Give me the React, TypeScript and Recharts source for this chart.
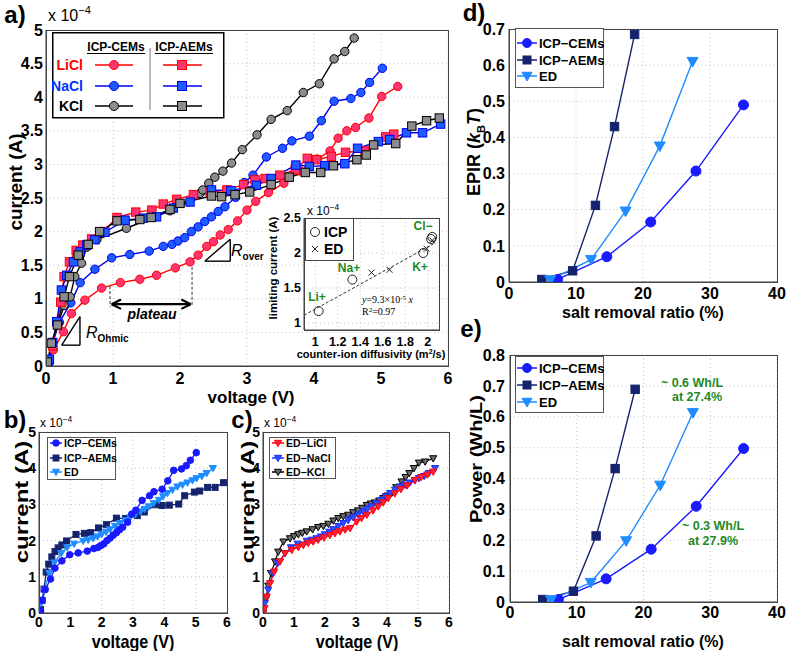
import React from "react";
import { LineChart, Line, XAxis, YAxis, CartesianGrid, ReferenceLine } from "recharts";

const FONT = "'Liberation Sans', Arial, Helvetica, sans-serif";
const GREEN = "#1f8a1f";

type Pt = [number, number];

// a) current (x1e-4 A) vs voltage (V)
const liclCem: Pt[] = [[0,0],[0.11,0.24],[0.26,0.51],[0.38,0.78],[0.58,0.98],[0.83,1.16],[1.11,1.24],[1.4,1.29],[1.65,1.35],[1.93,1.46],[2.15,1.55],[2.27,1.65],[2.4,1.78],[2.5,1.85],[2.6,1.95],[2.72,2.03],[2.86,2.16],[3.0,2.32],[3.13,2.45],[3.32,2.58],[3.55,2.72],[3.8,2.9],[4.05,3.08],[4.24,3.2],[4.36,3.39],[4.49,3.5],[4.62,3.55],[4.82,3.69],[5.01,4.01],[5.25,4.16]];
const naclCem: Pt[] = [[0,0],[0.05,0.05],[0.1,0.35],[0.2,0.65],[0.37,0.94],[0.51,1.24],[0.73,1.44],[0.98,1.61],[1.25,1.66],[1.54,1.71],[1.75,1.78],[1.88,1.81],[1.97,1.86],[2.07,1.91],[2.17,2.0],[2.27,2.07],[2.37,2.15],[2.47,2.22],[2.57,2.3],[2.67,2.37],[2.83,2.51],[2.96,2.73],[3.09,2.84],[3.29,3.11],[3.53,3.24],[3.67,3.35],[3.93,3.42],[4.11,3.65],[4.3,3.94],[4.55,3.98],[4.7,4.07],[4.83,4.22],[5.02,4.43]];
const kclCem: Pt[] = [[0,0],[0.05,0.08],[0.1,0.35],[0.18,0.62],[0.27,0.9],[0.36,1.03],[0.43,1.33],[0.53,1.53],[0.61,1.77],[0.76,1.88],[1.2,2.05],[1.85,2.31],[2.3,2.57],[2.34,2.62],[2.43,2.72],[2.52,2.81],[2.64,2.9],[2.77,3.02],[2.93,3.22],[3.15,3.44],[3.36,3.67],[3.6,3.8],[3.84,4.07],[4.08,4.2],[4.3,4.57],[4.46,4.68],[4.6,4.88]];
const liclAem: Pt[] = [[0,0],[0.1,0.3],[0.17,0.65],[0.22,0.95],[0.27,1.33],[0.35,1.55],[0.45,1.72],[0.55,1.8],[0.68,1.89],[0.86,2.0],[1.06,2.21],[1.34,2.29],[1.58,2.32],[1.75,2.41],[1.95,2.48],[2.2,2.55],[2.45,2.58],[2.7,2.62],[2.95,2.7],[3.12,2.77],[3.27,2.79],[3.49,2.84],[3.72,2.92],[3.9,3.09],[4.04,3.07],[4.26,3.12],[4.47,3.18],[4.76,3.2],[5.07,3.41],[5.19,3.45]];
const naclAem: Pt[] = [[0,0],[0.05,0.1],[0.1,0.35],[0.16,0.66],[0.23,1.13],[0.31,1.35],[0.41,1.55],[0.51,1.7],[0.61,1.8],[0.73,1.88],[0.88,1.99],[1.18,2.17],[1.45,2.2],[1.65,2.22],[1.9,2.35],[2.15,2.44],[2.47,2.62],[2.76,2.61],[3.14,2.69],[3.36,2.79],[3.73,2.99],[3.93,2.97],[4.16,2.98],[4.46,3.01],[4.65,3.24],[4.96,3.34],[5.13,3.37],[5.38,3.47],[5.62,3.47],[5.89,3.6]];
const kclAem: Pt[] = [[0,0],[0.02,0.06],[0.08,0.34],[0.17,0.61],[0.27,1.03],[0.35,1.33],[0.48,1.65],[0.63,1.81],[0.8,2.0],[1.06,2.16],[1.4,2.18],[1.57,2.21],[1.85,2.33],[2.0,2.42],[2.47,2.53],[2.62,2.52],[2.82,2.55],[3.04,2.59],[3.36,2.7],[3.63,2.81],[3.87,2.88],[4.1,2.88],[4.29,2.98],[4.64,3.07],[4.78,3.14],[4.89,3.29],[5.22,3.31],[5.46,3.57],[5.68,3.65],[5.87,3.69]];

// c) electrodialysis runs
const edLicl: Pt[] = [[0,0],[0.05,0.13],[0.12,0.45],[0.23,0.82],[0.36,1.14],[0.55,1.42],[0.71,1.65],[0.93,1.74],[1.14,1.82],[1.3,1.87],[1.46,1.93],[1.62,1.97],[1.78,2.02],[1.97,2.08],[2.16,2.15],[2.32,2.2],[2.48,2.25],[2.65,2.3],[2.81,2.34],[3.02,2.52],[3.18,2.62],[3.35,2.71],[3.55,2.83],[3.72,2.94],[3.88,3.05],[4.04,3.17],[4.25,3.3],[4.45,3.42],[4.65,3.52],[4.9,3.67],[5.1,3.75],[5.3,3.82],[5.49,3.9]];
const edNacl: Pt[] = [[0,0],[0.06,0.27],[0.17,0.64],[0.33,1.1],[0.49,1.39],[0.71,1.65],[0.9,1.81],[1.12,1.91],[1.41,1.99],[1.57,2.02],[1.73,2.06],[1.87,2.11],[2.0,2.17],[2.14,2.24],[2.27,2.31],[2.43,2.4],[2.59,2.48],[2.75,2.56],[2.91,2.64],[3.07,2.72],[3.24,2.8],[3.37,2.87],[3.5,2.94],[3.66,3.03],[3.83,3.12],[3.96,3.22],[4.1,3.31],[4.26,3.4],[4.42,3.49],[4.58,3.54],[4.74,3.6],[4.9,3.66],[5.03,3.72],[5.2,3.78],[5.35,3.86],[5.55,4.0]];
const edKcl: Pt[] = [[0,0],[0.01,0.08],[0.09,0.38],[0.17,0.75],[0.26,1.1],[0.39,1.42],[0.49,1.69],[0.66,1.97],[0.87,2.06],[1.0,2.12],[1.14,2.17],[1.27,2.21],[1.41,2.25],[1.6,2.31],[1.78,2.37],[1.95,2.4],[2.11,2.46],[2.27,2.55],[2.43,2.62],[2.59,2.67],[2.75,2.71],[2.91,2.78],[3.07,2.83],[3.2,2.9],[3.35,2.98],[3.48,3.02],[3.61,3.05],[3.75,3.1],[3.88,3.17],[4.02,3.24],[4.15,3.31],[4.3,3.47],[4.47,3.63],[4.6,3.75],[4.72,3.86],[4.87,4.0],[5.03,4.15],[5.23,4.18],[5.49,4.27]];

// inset: limiting current vs counter-ion diffusivity
const insetIcp: Pt[] = [[1.03,1.17],[1.33,1.62],[1.96,2.0],[2.03,2.2],[2.04,2.23]];
const insetEd: Pt[] = [[1.5,1.72],[1.66,1.76],[1.99,2.06],[2.04,2.18]];
const insetFit: Pt[] = [[0.9,1.11],[2.06,2.14]];

// d) EPIR and e) power vs salt removal ratio (%)
const epirCem: Pt[] = [[7.25,0.007],[14.6,0.07],[21.15,0.166],[27.9,0.307],[35.0,0.49]];
const epirAem: Pt[] = [[4.9,0.007],[9.5,0.031],[12.9,0.212],[15.75,0.43],[18.75,0.685]];
const epirEd: Pt[] = [[6.15,0.006],[12.25,0.062],[17.4,0.196],[22.5,0.376],[27.4,0.61]];
const powCem: Pt[] = [[7.25,0.008],[14.4,0.075],[21.15,0.171],[27.9,0.31],[35.0,0.497]];
const powAem: Pt[] = [[4.9,0.008],[9.5,0.035],[12.9,0.214],[15.75,0.432],[18.75,0.689]];
const powEd: Pt[] = [[6.15,0.007],[12.1,0.063],[17.4,0.198],[22.5,0.378],[27.4,0.613]];

const vTicks = [0, 1, 2, 3, 4, 5, 6];
const iTicksA = [0, 0.5, 1, 1.5, 2, 2.5, 3, 3.5, 4, 4.5, 5];
const iTicksB = [0, 1, 2, 3, 4, 5];
const diffTicks = [1, 1.2, 1.4, 1.6, 1.8, 2];
const limTicks = [1, 1.5, 2, 2.5];
const ratioTicks = [0, 10, 20, 30, 40];
const epirTicks = [0, 0.1, 0.2, 0.3, 0.4, 0.5, 0.6, 0.7];
const powTicks = [0, 0.1, 0.2, 0.3, 0.4, 0.5, 0.6, 0.7, 0.8];

const toPts = (arr: Pt[]) => arr.map(([x, y]) => ({ x, y }));

type Shape = "circle" | "square" | "tri" | "x";

const drawMarker = (shape: Shape, s: number, fill: string, stroke: string, cx: number, cy: number, key: string, sw = 1) => {
  if (shape === "circle") return <circle key={key} cx={cx} cy={cy} r={s} fill={fill} stroke={stroke} strokeWidth={sw} />;
  if (shape === "square") return <rect key={key} x={cx - s} y={cy - s} width={2 * s} height={2 * s} fill={fill} stroke={stroke} strokeWidth={sw} />;
  if (shape === "tri")
    return <polygon key={key} points={`${cx - s},${cy - s * 0.75} ${cx + s},${cy - s * 0.75} ${cx},${cy + s}`} fill={fill} stroke={stroke} strokeWidth={sw} />;
  return (
    <g key={key} stroke={stroke} strokeWidth={sw}>
      <line x1={cx - s} y1={cy - s} x2={cx + s} y2={cy + s} />
      <line x1={cx - s} y1={cy + s} x2={cx + s} y2={cy - s} />
    </g>
  );
};

const dot = (shape: Shape, s: number, fill: string, stroke: string, sw = 1) => (p: any) => {
  const key = `m${p.index}`;
  if (p.cx == null || p.cy == null || Number.isNaN(p.cx)) return <g key={key} />;
  return drawMarker(shape, s, fill, stroke, p.cx, p.cy, key, sw);
};

interface PanelProps {
  left: number;
  top: number;
  w: number;
  h: number;
  xDomain: [number, number];
  yDomain: [number, number];
  xTicks: number[];
  yTicks: number[];
  fontSize: number;
  yPad?: number;
  xPad?: number;
  xGap?: number;
  yGap?: number;
  bg?: string;
  children: React.ReactNode;
}

const PAD_T = 8;
const PAD_R = 14;

const Panel = ({ left, top, w, h, xDomain, yDomain, xTicks, yTicks, fontSize, yPad = 40, xPad = 30, xGap = 6, yGap = 4, bg, children }: PanelProps) => {
  const tick = { fontSize, fontWeight: "bold", fill: "#000", fontFamily: FONT };
  return (
    <div style={{ position: "absolute", left: left - yPad, top: top - PAD_T }}>
      <LineChart width={w + yPad + PAD_R} height={h + PAD_T + xPad} margin={{ top: PAD_T, right: PAD_R, left: 0, bottom: 0 }}>
        <CartesianGrid stroke="#c4c4c4" strokeDasharray="1 3" fill={bg} />
        <XAxis type="number" dataKey="x" domain={xDomain} ticks={xTicks} interval={0} allowDataOverflow height={xPad} tickLine={false} tickSize={0} tickMargin={xGap} axisLine={{ stroke: "#444" }} tick={tick} />
        <YAxis type="number" dataKey="y" domain={yDomain} ticks={yTicks} interval={0} allowDataOverflow width={yPad} tickLine={false} tickSize={0} tickMargin={yGap} axisLine={{ stroke: "#444" }} tick={tick} />
        {children}
      </LineChart>
      <div style={{ position: "absolute", left: yPad, top: PAD_T, width: w + 1, height: h + 1, border: "1px solid #444", boxSizing: "border-box", pointerEvents: "none" }} />
    </div>
  );
};

const Txt = ({ x, y, size, children, color = "#000", weight = "bold", rotate = false, italic = false, squeeze = 1 }: any) => (
  <div
    style={{
      position: "absolute",
      left: x,
      top: y,
      transform: `translate(-50%,-50%)${rotate ? " rotate(-90deg)" : ""}${squeeze !== 1 ? (rotate ? ` scaleY(${squeeze})` : ` scaleX(${squeeze})`) : ""}`,
      fontFamily: FONT,
      fontSize: size,
      fontWeight: weight,
      fontStyle: italic ? "italic" : "normal",
      color,
      whiteSpace: "nowrap",
      lineHeight: 1,
    }}
  >
    {children}
  </div>
);

const Exp = ({ x, y, size }: { x: number; y: number; size: number }) => (
  <div style={{ position: "absolute", left: x, top: y, fontFamily: FONT, fontSize: size, lineHeight: 1, whiteSpace: "nowrap" }}>
    x 10<span style={{ fontSize: size * 0.7, position: "relative", top: -size * 0.45 }}>−4</span>
  </div>
);

interface LegItem {
  label: string;
  color: string;
  fill: string;
  shape: Shape;
  s: number;
}

const SmallLegend = ({ x, y, w, h, items, rowY, lineX, font }: { x: number; y: number; w: number; h: number; items: LegItem[]; rowY: number[]; lineX: [number, number]; font: number }) => (
  <svg style={{ position: "absolute", left: x, top: y }} width={w + 2} height={h + 2}>
    <rect x={0.5} y={0.5} width={w} height={h} fill="#fff" stroke="#555" />
    {items.map((it, i) => (
      <g key={it.label}>
        <line x1={lineX[0]} x2={lineX[1]} y1={rowY[i]} y2={rowY[i]} stroke={it.color} strokeWidth={1.5} />
        {drawMarker(it.shape, it.s, it.fill, it.color, (lineX[0] + lineX[1]) / 2, rowY[i], "mk")}
        <text x={lineX[1] + 2} y={rowY[i] + font * 0.36} fontFamily={FONT} fontWeight="bold" fontSize={font}>
          {it.label}
        </text>
      </g>
    ))}
  </svg>
);

const RED = "#ff0000";
const RED_F = "#ff3470";
const BLUE = "#0000f0";
const BLUE_F = "#1e5cff";
const GRAY_F = "#8c8c8c";

const ICP_C = "#1a1aff";
const ICP_A = "#15236e";
const ED_C = "#1f8cff";

const seriesA = [
  { data: liclCem, color: RED, fill: RED_F, shape: "circle" as Shape },
  { data: naclCem, color: BLUE, fill: BLUE_F, shape: "circle" as Shape },
  { data: kclCem, color: "#000", fill: GRAY_F, shape: "circle" as Shape },
  { data: liclAem, color: RED, fill: RED_F, shape: "square" as Shape },
  { data: naclAem, color: BLUE, fill: BLUE_F, shape: "square" as Shape },
  { data: kclAem, color: "#000", fill: GRAY_F, shape: "square" as Shape },
];

const seg = (pts: Pt[], key: string, extra: any = {}) => (
  <ReferenceLine key={key} segment={pts.map(([x, y]) => ({ x, y }))} stroke="#000" strokeWidth={1.4} ifOverflow="visible" {...extra} />
);

const bItems: LegItem[] = [
  { label: "ICP−CEMs", color: ICP_C, fill: ICP_C, shape: "circle", s: 3.3 },
  { label: "ICP−AEMs", color: ICP_A, fill: ICP_A, shape: "square", s: 3 },
  { label: "ED", color: ED_C, fill: ED_C, shape: "tri", s: 3.6 },
];
const cItems: LegItem[] = [
  { label: "ED−LiCl", color: "#ff0000", fill: "#ff2040", shape: "tri", s: 3.6 },
  { label: "ED−NaCl", color: "#1a2cff", fill: "#3050ff", shape: "tri", s: 3.6 },
  { label: "ED−KCl", color: "#000", fill: "#6a6a6a", shape: "tri", s: 3.6 },
];
const deItems: LegItem[] = [
  { label: "ICP−CEMs", color: ICP_C, fill: ICP_C, shape: "circle", s: 4.5 },
  { label: "ICP−AEMs", color: ICP_A, fill: ICP_A, shape: "square", s: 4 },
  { label: "ED", color: ED_C, fill: ED_C, shape: "tri", s: 5 },
];

const App = () => (
  <div style={{ position: "absolute", left: 0, top: 0, width: 787, height: 651, background: "#fff", overflow: "hidden", fontFamily: FONT }}>
    {/* a) main */}
    <Panel left={46} top={30} w={402} h={336} xDomain={[0, 6]} yDomain={[0, 5]} xTicks={vTicks} yTicks={iTicksA} fontSize={16} yPad={46} xPad={34} xGap={7} yGap={3}>
      {seriesA.map((s, i) => (
        <Line key={i} data={toPts(s.data)} dataKey="y" stroke={s.color} strokeWidth={1.4} dot={dot(s.shape, 4.2, s.fill, s.color)} activeDot={false} isAnimationActive={false} />
      ))}
      {seg([[0.955, 1.19], [0.955, 0.88]], "d1", { strokeDasharray: "3 2", strokeWidth: 1, stroke: "#333" })}
      {seg([[2.18, 1.55], [2.18, 0.88]], "d2", { strokeDasharray: "3 2", strokeWidth: 1, stroke: "#333" })}
      {seg([[0.98, 0.92], [2.16, 0.92]], "ar", { strokeWidth: 2.2 })}
      {seg([[0.98, 0.92], [1.12, 0.99]], "al1", { strokeWidth: 2.2 })}
      {seg([[0.98, 0.92], [1.12, 0.85]], "al2", { strokeWidth: 2.2 })}
      {seg([[2.16, 0.92], [2.02, 0.99]], "ar1", { strokeWidth: 2.2 })}
      {seg([[2.16, 0.92], [2.02, 0.85]], "ar2", { strokeWidth: 2.2 })}
      {seg([[0.234, 0.31], [0.507, 0.735]], "o1")}
      {seg([[0.507, 0.735], [0.507, 0.31]], "o2")}
      {seg([[0.507, 0.31], [0.234, 0.31]], "o3")}
      {seg([[2.37, 1.56], [2.75, 1.885]], "v1")}
      {seg([[2.75, 1.885], [2.75, 1.56]], "v2")}
      {seg([[2.75, 1.56], [2.37, 1.56]], "v3")}
    </Panel>

    {/* a) legend */}
    <svg style={{ position: "absolute", left: 52, top: 32 }} width={174} height={88}>
      <rect x={0.75} y={0.75} width={171} height={85} fill="#fff" stroke="#000" strokeWidth={1.5} />
      <text x={64} y={19} textAnchor="middle" fontFamily={FONT} fontWeight="bold" fontSize={12}>ICP-CEMs</text>
      <text x={132} y={19} textAnchor="middle" fontFamily={FONT} fontWeight="bold" fontSize={12}>ICP-AEMs</text>
      <line x1={35} x2={93} y1={21.5} y2={21.5} stroke="#000" />
      <line x1={103} x2={161} y1={21.5} y2={21.5} stroke="#000" />
      <line x1={98} x2={98} y1={16} y2={78} stroke="#777" />
      {[
        { label: "LiCl", color: RED, fill: RED_F, y: 33 },
        { label: "NaCl", color: BLUE, fill: BLUE_F, y: 54 },
        { label: "KCl", color: "#000", fill: GRAY_F, y: 74 },
      ].map((r) => (
        <g key={r.label}>
          <text x={31} y={r.y + 5} textAnchor="end" fontFamily={FONT} fontWeight="bold" fontSize={14} fill={r.color === BLUE ? "#0033ff" : r.color}>{r.label}</text>
          <line x1={43} x2={81} y1={r.y} y2={r.y} stroke={r.color} strokeWidth={1.5} />
          {drawMarker("circle", 4.5, r.fill, r.color, 62, r.y, "c")}
          <line x1={111} x2={150} y1={r.y} y2={r.y} stroke={r.color} strokeWidth={1.5} />
          {drawMarker("square", 4.5, r.fill, r.color, 130, r.y, "s")}
        </g>
      ))}
    </svg>

    {/* a) inset */}
    <Panel left={304} top={218} w={135} h={112} xDomain={[0.9, 2.1]} yDomain={[0.9, 2.5]} xTicks={diffTicks} yTicks={limTicks} fontSize={12.5} yPad={26} xPad={20} xGap={7} yGap={3} bg="#fff">
      <Line data={toPts(insetFit)} dataKey="y" stroke="#333" strokeWidth={1} strokeDasharray="3 2" dot={false} activeDot={false} isAnimationActive={false} />
      <Line data={toPts(insetIcp)} dataKey="y" stroke="none" dot={dot("circle", 4.5, "none", "#222")} activeDot={false} isAnimationActive={false} />
      <Line data={toPts(insetEd)} dataKey="y" stroke="none" dot={dot("x", 3, "none", "#222")} activeDot={false} isAnimationActive={false} />
    </Panel>
    <svg style={{ position: "absolute", left: 305, top: 218 }} width={50} height={44}>
      <rect x={0.5} y={0.5} width={48} height={42} fill="#fff" stroke="#444" />
      {drawMarker("circle", 4.5, "none", "#222", 10, 14, "c")}
      <text x={19} y={19} fontFamily={FONT} fontWeight="bold" fontSize={14}>ICP</text>
      {drawMarker("x", 3, "none", "#222", 10, 31, "x")}
      <text x={19} y={36} fontFamily={FONT} fontWeight="bold" fontSize={14}>ED</text>
    </svg>
    <Exp x={307} y={205} size={12} />
    <Txt x={317} y={297} size={12} color={GREEN}>Li+</Txt>
    <Txt x={349} y={268} size={12} color={GREEN}>Na+</Txt>
    <Txt x={420} y={267} size={12} color={GREEN}>K+</Txt>
    <Txt x={423} y={226} size={12} color={GREEN}>Cl−</Txt>
    <div style={{ position: "absolute", left: 362, top: 295, fontFamily: "'Liberation Serif', 'DejaVu Serif', serif", fontSize: 10, lineHeight: 1, whiteSpace: "nowrap" }}>
      <i>y</i>=9.3×10<span style={{ fontSize: 7, verticalAlign: "3px", lineHeight: 0 }}>-5</span> <i>x</i>
    </div>
    <div style={{ position: "absolute", left: 362, top: 307, fontFamily: "'Liberation Serif', 'DejaVu Serif', serif", fontSize: 10, lineHeight: 1, whiteSpace: "nowrap" }}>
      R<span style={{ fontSize: 7, verticalAlign: "3px", lineHeight: 0 }}>2</span>=0.97
    </div>
    <Txt x={274} y={268} size={11.5} rotate>limiting current (A)</Txt>
    <Txt x={371} y={354} size={11}>counter-ion diffusivity (m<span style={{ fontSize: 7, position: "relative", top: -4 }}>2</span>/s)</Txt>

    {/* a) annotations text */}
    <Txt x={152} y={314} size={14} italic>plateau</Txt>
    <div style={{ position: "absolute", left: 86, top: 325, fontFamily: FONT, lineHeight: 1, whiteSpace: "nowrap" }}>
      <span style={{ fontSize: 16, fontStyle: "italic" }}>R</span>
      <span style={{ fontSize: 10, fontWeight: "bold", position: "relative", top: 4 }}>Ohmic</span>
    </div>
    <div style={{ position: "absolute", left: 231, top: 243, fontFamily: FONT, lineHeight: 1, whiteSpace: "nowrap" }}>
      <span style={{ fontSize: 16, fontStyle: "italic" }}>R</span>
      <span style={{ fontSize: 10, fontWeight: "bold", position: "relative", top: 4 }}>over</span>
    </div>

    <Exp x={48} y={8} size={16} />
    <Txt x={15} y={182} size={19} rotate>current (A)</Txt>
    <Txt x={251} y={397} size={17}>voltage (V)</Txt>
    <Txt x={15} y={15} size={24}>a)</Txt>

    {/* b) */}
    <Panel left={39} top={432} w={188} h={181} xDomain={[0, 6]} yDomain={[0, 5]} xTicks={vTicks} yTicks={iTicksB} fontSize={14} yPad={39} xPad={20} xGap={4} yGap={3}>
      <Line data={toPts(naclAem)} dataKey="y" stroke={ICP_A} strokeWidth={1.3} dot={dot("square", 3, ICP_A, ICP_A)} activeDot={false} isAnimationActive={false} />
      <Line data={toPts(edNacl)} dataKey="y" stroke={ED_C} strokeWidth={1.3} dot={dot("tri", 3.6, ED_C, ED_C)} activeDot={false} isAnimationActive={false} />
      <Line data={toPts(naclCem)} dataKey="y" stroke={ICP_C} strokeWidth={1.3} dot={dot("circle", 3.3, ICP_C, ICP_C)} activeDot={false} isAnimationActive={false} />
    </Panel>
    <SmallLegend x={47} y={437} w={68} h={42} font={10.5} lineX={[3, 15]} rowY={[6, 21, 35]} items={bItems} />
    <Exp x={40} y={417} size={12} />
    <Txt x={22} y={502} size={24} rotate squeeze={0.78}>current (A)</Txt>
    <Txt x={133} y={641} size={19} squeeze={0.85}>voltage (V)</Txt>
    <Txt x={15} y={420} size={24}>b)</Txt>

    {/* c) */}
    <Panel left={263} top={432} w={186} h={181} xDomain={[0, 6]} yDomain={[0, 5]} xTicks={vTicks} yTicks={iTicksB} fontSize={14} yPad={39} xPad={20} xGap={4} yGap={3}>
      <Line data={toPts(edKcl)} dataKey="y" stroke="#000" strokeWidth={1.2} dot={dot("tri", 3.6, "#6a6a6a", "#000")} activeDot={false} isAnimationActive={false} />
      <Line data={toPts(edNacl)} dataKey="y" stroke="#1a2cff" strokeWidth={1.2} dot={dot("tri", 3.6, "#3050ff", "#1a2cff")} activeDot={false} isAnimationActive={false} />
      <Line data={toPts(edLicl)} dataKey="y" stroke="#ff0000" strokeWidth={1.2} dot={dot("tri", 3.6, "#ff2040", "#ff0000")} activeDot={false} isAnimationActive={false} />
    </Panel>
    <SmallLegend x={269} y={437} w={66} h={41} font={10.5} lineX={[3, 15]} rowY={[6, 21, 35]} items={cItems} />
    <Exp x={264} y={417} size={12} />
    <Txt x={248} y={502} size={24} rotate squeeze={0.78}>current (A)</Txt>
    <Txt x={357} y={641} size={19} squeeze={0.85}>voltage (V)</Txt>
    <Txt x={242} y={420} size={24}>c)</Txt>

    {/* d) */}
    <Panel left={509} top={29} w={268} h={253} xDomain={[0, 40]} yDomain={[0, 0.7]} xTicks={ratioTicks} yTicks={epirTicks} fontSize={16} yPad={40} xPad={26} xGap={6} yGap={4}>
      <Line data={toPts(epirCem)} dataKey="y" stroke={ICP_C} strokeWidth={1.4} dot={dot("circle", 5, ICP_C, ICP_C)} activeDot={false} isAnimationActive={false} />
      <Line data={toPts(epirAem)} dataKey="y" stroke={ICP_A} strokeWidth={1.4} dot={dot("square", 4.2, ICP_A, ICP_A)} activeDot={false} isAnimationActive={false} />
      <Line data={toPts(epirEd)} dataKey="y" stroke={ED_C} strokeWidth={1.4} dot={dot("tri", 5.5, ED_C, ED_C)} activeDot={false} isAnimationActive={false} />
    </Panel>
    <SmallLegend x={515} y={28} w={88} h={59} font={13} lineX={[2, 22]} rowY={[15, 32, 48]} items={deItems} />
    <Txt x={476} y={152} size={18} rotate>
      EPIR (<i>k</i>
      <sub style={{ fontSize: 11 }}>B</sub>
      <i>T</i>)
    </Txt>
    <Txt x={643} y={313} size={16}>salt removal ratio (%)</Txt>
    <Txt x={474} y={13} size={24}>d)</Txt>

    {/* e) */}
    <Panel left={510} top={355} w={267} h={247} xDomain={[0, 40]} yDomain={[0, 0.8]} xTicks={ratioTicks} yTicks={powTicks} fontSize={16} yPad={40} xPad={26} xGap={5} yGap={5}>
      <Line data={toPts(powCem)} dataKey="y" stroke={ICP_C} strokeWidth={1.4} dot={dot("circle", 5, ICP_C, ICP_C)} activeDot={false} isAnimationActive={false} />
      <Line data={toPts(powAem)} dataKey="y" stroke={ICP_A} strokeWidth={1.4} dot={dot("square", 4.2, ICP_A, ICP_A)} activeDot={false} isAnimationActive={false} />
      <Line data={toPts(powEd)} dataKey="y" stroke={ED_C} strokeWidth={1.4} dot={dot("tri", 5.5, ED_C, ED_C)} activeDot={false} isAnimationActive={false} />
    </Panel>
    <SmallLegend x={515} y={356} w={88} h={56} font={13} lineX={[2, 22]} rowY={[12, 29, 46]} items={deItems} />
    <Txt x={692} y={383} size={12.5} color={GREEN}>~ 0.6 Wh/L</Txt>
    <Txt x={697} y={397} size={12.5} color={GREEN}>at 27.4%</Txt>
    <Txt x={713} y={526} size={12.5} color={GREEN}>~ 0.3 Wh/L</Txt>
    <Txt x={713} y={541} size={12.5} color={GREEN}>at 27.9%</Txt>
    <Txt x={476} y={459} size={20} rotate squeeze={0.85}>Power (Wh/L)</Txt>
    <Txt x={643} y={642} size={16}>salt removal ratio (%)</Txt>
    <Txt x={471} y={329} size={24}>e)</Txt>
  </div>
);

export default App;
